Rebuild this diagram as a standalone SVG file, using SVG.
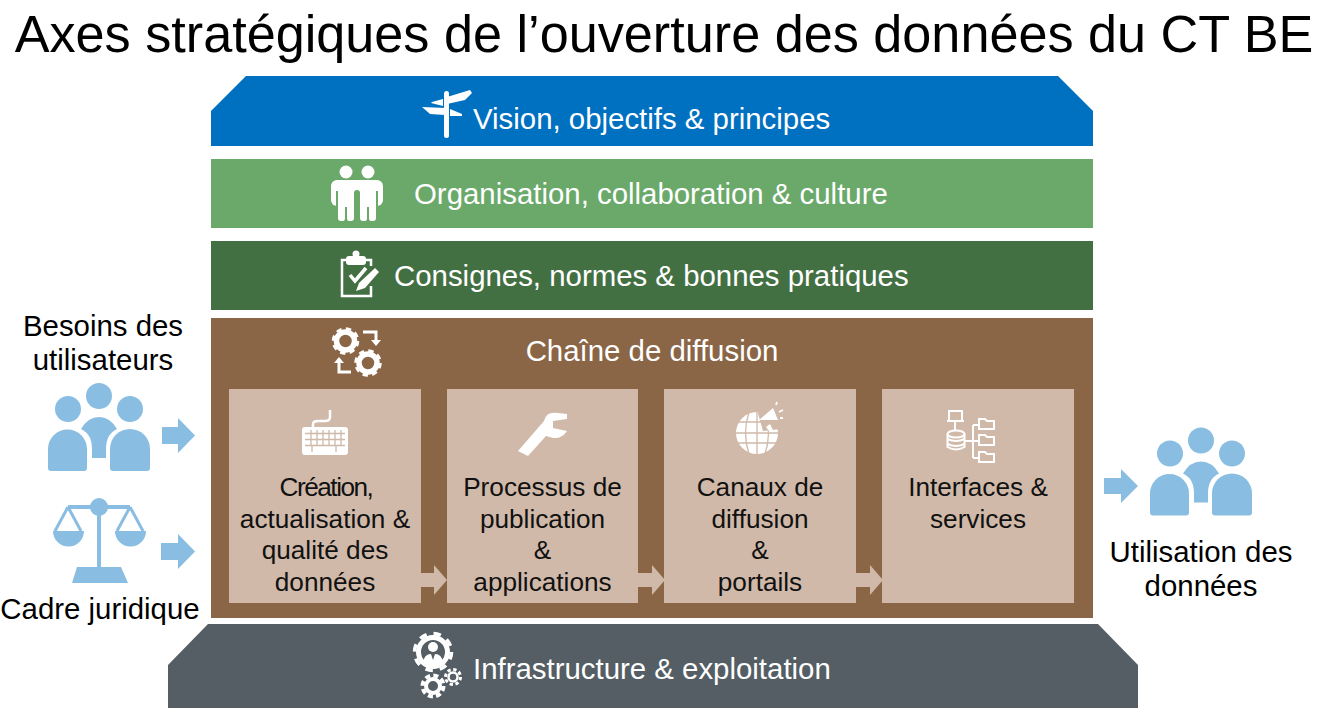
<svg xmlns="http://www.w3.org/2000/svg" xmlns:xlink="http://www.w3.org/1999/xlink" width="1318" height="724" viewBox="0 0 1318 724">
<style>
text{font-family:"Liberation Sans",Arial,sans-serif}
.t{font-size:29.400px;fill:#fff}
.b{font-size:26.200px;fill:#111;text-anchor:middle}
.s{font-size:29.400px;fill:#000;text-anchor:middle}
.w{fill:#fff}
.wl{fill:none;stroke:#fff}
.lb{fill:#89BDE1}
.ar{fill:#D0B9A9}
</style>
<defs>
<g id="people" class="lb">
<circle cx="99" cy="396" r="13"/><circle cx="68" cy="409" r="13"/><circle cx="130" cy="409" r="13"/>
<path d="M48 449a19.500 19.500 0 0 1 39 0v19q0 3-3 3H51q-3 0-3-3z"/>
<path d="M110 449a20 20 0 0 1 40 0v19q0 3-3 3H113q-3 0-3-3z"/>
<path d="M81 429Q88 417 99 417Q110 417 117 429Q106 434 106 449V458H92V449Q92 434 81 429z"/>
</g>
<g id="gear"><circle r="9" fill="none" stroke="#fff" stroke-width="5.500"/><circle r="12" fill="none" stroke="#fff" stroke-width="3.500" stroke-dasharray="5.200 4.220"/></g>
<path id="chev" d="M0 0h14V-8L27 7L14 22V14H0z" class="ar"/>
</defs>

<text id="title" x="664" y="52" font-size="52.200" text-anchor="middle" fill="#000">Axes stratégiques de l’ouverture des données du CT BE</text>

<g id="connectors">
<path class="lb" d="M162 427H178V418L195 435.500L178 453V444H162z"/>
<path class="lb" d="M161 543H178V534L195 551.500L178 569V560H161z"/>
<path class="lb" d="M1104 478H1121V469L1138 486L1121 503V494H1104z"/>
</g>

<g id="vision">
<path d="M211 146H1093V111L1058 76H246L211 111z" fill="#0070C0"/>
<g class="w">
<rect x="444" y="91" width="5" height="47" rx="2.500"/>
<path d="M447 97L470 90L472 93L465 100L447 104z"/>
<path d="M443 99L432 102L431 103L443 106z"/>
<path d="M446 108L422 107L430 114L445 115z"/>
<path d="M450 109L462 114L462 116L450 116z"/>
</g>
<text class="t" x="473" y="129">Vision, objectifs &amp; principes</text>
</g>

<g id="organisation">
<rect x="211" y="159" width="882" height="69" fill="#6AA96A"/>
<g class="w">
<circle cx="346" cy="172" r="6.500"/><circle cx="368" cy="172" r="6.500"/>
<rect x="331" y="180" width="52" height="26" rx="6"/>
<path d="M338 200H354V218Q354 221 351 221H349Q347 221 347 218V207H345V218Q345 221 343 221H341Q338 221 338 218z"/>
<path d="M360 200H376V218Q376 221 373 221H371Q369 221 369 218V207H367V218Q367 221 365 221H363Q360 221 360 218z"/>
</g>
<path d="M337 191V208M377 191V208" stroke="#6AA96A" stroke-width="2" fill="none"/>
<path d="M357 221V193" stroke="#6AA96A" stroke-width="6" stroke-linecap="round" fill="none"/>
<text class="t" x="414" y="204">Organisation, collaboration &amp; culture</text>
</g>

<g id="consignes">
<rect x="211" y="241" width="882" height="69" fill="#437043"/>
<path class="wl" stroke-width="2.500" d="M346 260H342V296H371V286"/>
<path class="wl" stroke-width="2.500" d="M366 260H371V266"/>
<rect x="346" y="256" width="20" height="9" rx="3" class="w"/><circle cx="356" cy="254" r="3.500" class="w"/>
<path class="wl" stroke-width="3.500" d="M350 275L355 281L366 268"/>
<path class="w" d="M375 268L379 272L365 288L356 291L359 283z"/>
<text class="t" x="394" y="286">Consignes, normes &amp; bonnes pratiques</text>
</g>

<g id="chaine">
<rect x="211" y="318" width="882" height="300" fill="#8A6647"/>
<use xlink:href="#gear" href="#gear" transform="translate(345.500 341)"/>
<use xlink:href="#gear" href="#gear" transform="translate(368 363)"/>
<path class="wl" stroke-width="3" d="M363 332H376V342"/><path class="w" d="M371 340H381L376 346z"/>
<path class="wl" stroke-width="3" d="M351 372H339V362"/><path class="w" d="M334 363H344L339 357z"/>
<text class="t" x="652" y="361" text-anchor="middle">Chaîne de diffusion</text>
</g>

<g id="creation">
<rect x="229" y="389" width="192" height="214" fill="#D0B9A9"/>
<rect x="302" y="427" width="46" height="28" rx="3" class="w"/>
<path class="wl" stroke-width="2.500" d="M313 427V424Q313 421 318 421H325Q330 421 330 417V410"/>
<path d="M305 433.500h40M305 439.500h40M305 445.500h40M311 430v15M317 430v15M323 430v15M329 430v15M335 430v15M341 430v15M312 446v6M336 446v6" stroke="#D0B9A9" stroke-width="1.300" fill="none"/>
<text class="b" x="326" y="496" letter-spacing="-1.500">Création,</text>
<text class="b" x="325" y="527.500">actualisation &amp;</text>
<text class="b" x="325" y="559">qualité des</text>
<text class="b" x="325" y="590.500">données</text>
</g>

<g id="processus">
<rect x="447" y="389" width="191" height="214" fill="#D0B9A9"/>
<path class="w" d="M518 451L544 421Q546 411 558 413L567 414V419L553 421V428L567 431Q562 439 553 438L546 436L528 456z"/>
<text class="b" x="542.500" y="496">Processus de</text>
<text class="b" x="542.500" y="527.500">publication</text>
<text class="b" x="542.500" y="559">&amp;</text>
<text class="b" x="542.500" y="590.500">applications</text>
</g>

<g id="canaux">
<rect x="664" y="389" width="192" height="214" fill="#D0B9A9"/>
<circle cx="757" cy="433" r="21" class="w"/>
<path d="M736 422H778M736 433H778M736 443H778M757 412V454M749 412Q742 433 749 454M765 412Q772 433 765 454" stroke="#D0B9A9" stroke-width="1.300" fill="none"/>
<path d="M757 410L790 400V428L763 431z" fill="#D0B9A9"/>
<path class="w" d="M759 420L773 408L778 420zM766 427L770 424L773 430L769 431z"/>
<path class="wl" stroke-width="1.800" d="M776 405L777 402M779 412L783 410M780 418L783 418"/>
<text class="b" x="760" y="496">Canaux de</text>
<text class="b" x="760" y="527.500">diffusion</text>
<text class="b" x="760" y="559">&amp;</text>
<text class="b" x="760" y="590.500">portails</text>
</g>

<g id="interfaces">
<rect x="882" y="389" width="192" height="214" fill="#D0B9A9"/>
<g class="wl" stroke-width="2">
<rect x="949" y="411" width="13" height="10"/><path d="M947 421H964M955 421V431"/>
<ellipse cx="956" cy="434" rx="8.500" ry="3.500"/><path d="M947.500 434V447Q956 452 964.500 447V434M947.500 439Q956 443 964.500 439M947.500 444Q956 448 964.500 444"/>
<path d="M965 441H973M973 425V458M973 425H978M973 441H978M973 458H978"/>
<path d="M979 419V429H994V421H987L985 419z"/><path d="M979 435V445H994V437H987L985 435z"/><path d="M979 452V462H994V454H987L985 452z"/>
</g>
<text class="b" x="978" y="496">Interfaces &amp;</text>
<text class="b" x="978" y="527.500">services</text>
</g>

<g id="flow-arrows">
<use xlink:href="#chev" href="#chev" transform="translate(420 573)"/>
<use xlink:href="#chev" href="#chev" transform="translate(638 573)"/>
<use xlink:href="#chev" href="#chev" transform="translate(856 573)"/>
</g>

<g id="infrastructure">
<path d="M168 708H1138V665L1098 624H208L168 665z" fill="#545E64"/>
<circle cx="433" cy="652" r="14.500" fill="none" stroke="#fff" stroke-width="5"/>
<circle cx="433" cy="652" r="18.500" fill="none" stroke="#fff" stroke-width="3.500" stroke-dasharray="7.500 7.030"/>
<circle cx="433" cy="647" r="5" class="w"/><path class="w" d="M423 663Q424 654 431 654L433 660L435 654Q442 654 443 663L433 668z"/>
<g transform="translate(433 686)"><circle r="7" fill="none" stroke="#fff" stroke-width="4"/><circle r="10.500" fill="none" stroke="#fff" stroke-width="4" stroke-dasharray="5 3.250"/></g>
<g transform="translate(453 677)"><circle r="4.500" fill="none" stroke="#fff" stroke-width="2.500"/><circle r="7.500" fill="none" stroke="#fff" stroke-width="3" stroke-dasharray="3.300 2.590"/></g>
<text class="t" x="473" y="679">Infrastructure &amp; exploitation</text>
</g>

<g id="besoins">
<use xlink:href="#people" href="#people"/>
<text class="s" x="103" y="336">Besoins des</text>
<text class="s" x="103" y="370">utilisateurs</text>
</g>

<g id="cadre">
<g class="lb">
<circle cx="99" cy="507" r="9"/><rect x="68" y="505" width="62" height="4"/><rect x="97" y="507" width="4" height="62"/>
<path d="M77 567H121L128 583H72z"/>
<path d="M53 531H84A15.500 15.500 0 0 1 53 531z"/><path d="M115 531H146A15.500 15.500 0 0 1 115 531z"/>
<path d="M68 507L55 531M68 507L81 531M130 507L117 531M130 507L143 531" fill="none" stroke="#89BDE1" stroke-width="3"/>
</g>
<text class="s" x="100" y="619">Cadre juridique</text>
</g>

<g id="utilisation">
<use xlink:href="#people" href="#people" transform="translate(1102 44.500)"/>
<text class="s" x="1201" y="562">Utilisation des</text>
<text class="s" x="1201" y="596">données</text>
</g>
</svg>
